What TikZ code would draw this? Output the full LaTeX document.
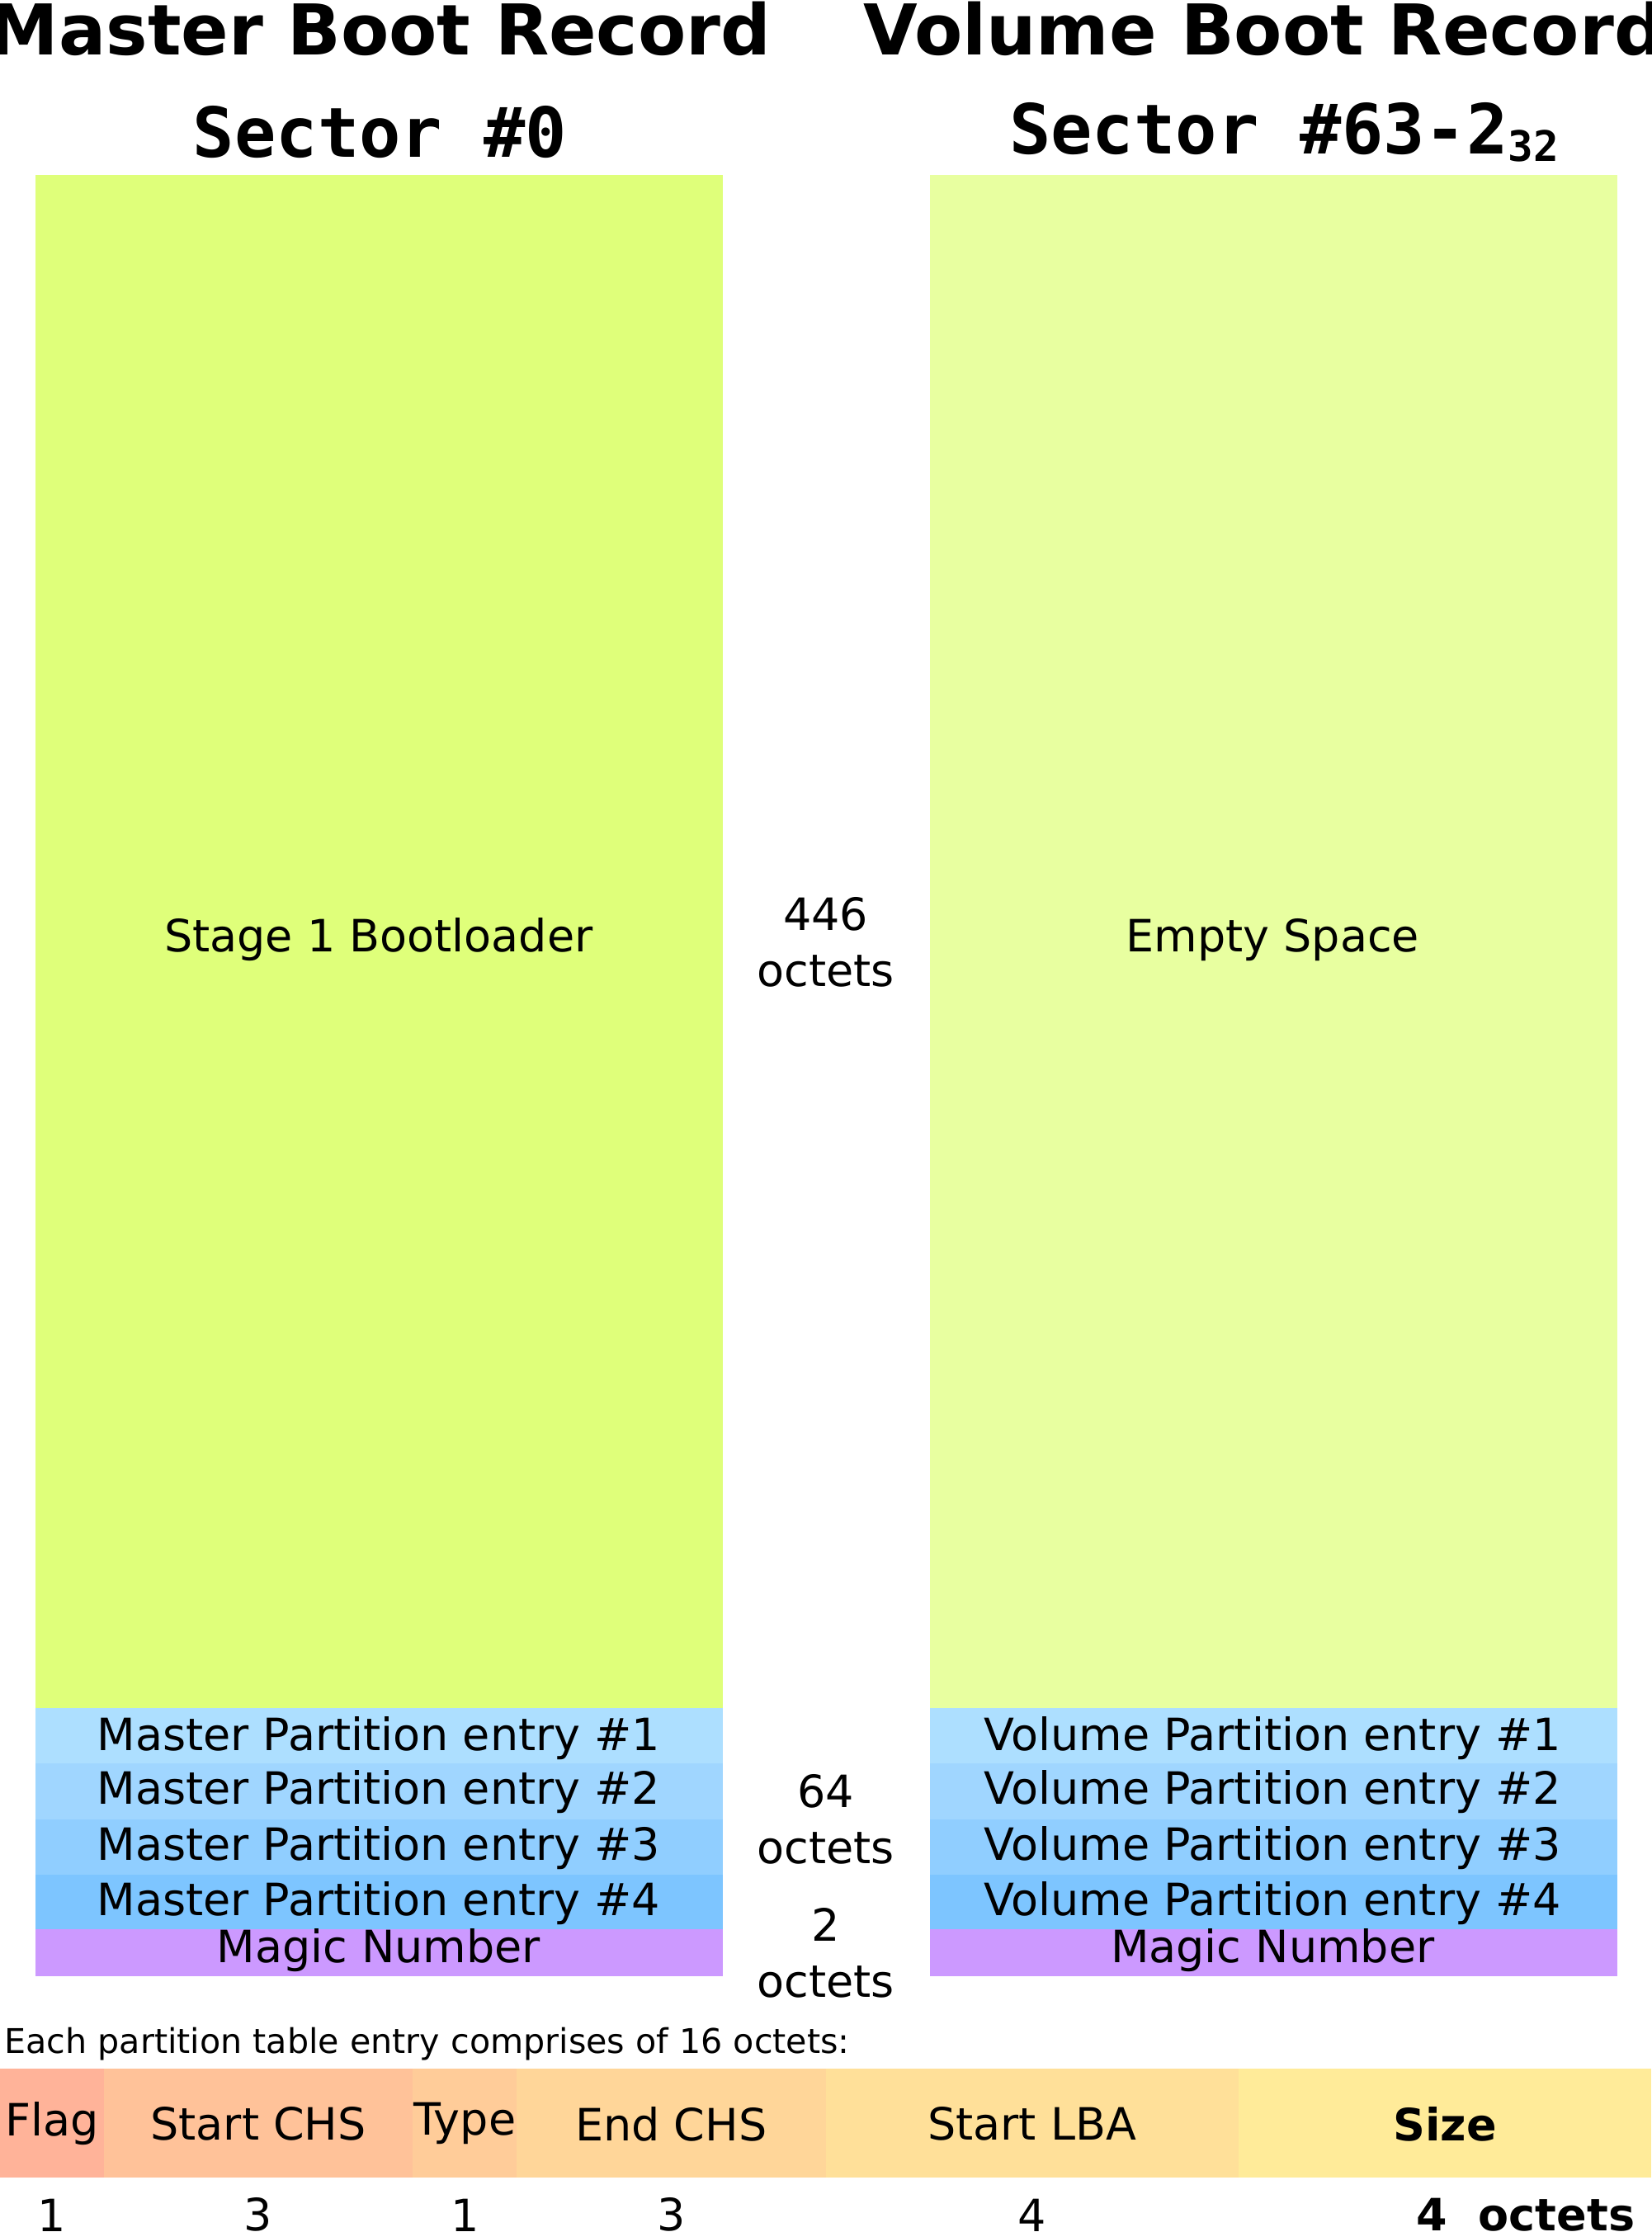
\documentclass[tikz,border=0pt]{standalone}
\usepackage{fontspec}
\setmainfont{DejaVu Sans}
\newfontfamily\monobold{DejaVu Sans Mono}
\usetikzlibrary{positioning}
\definecolor{bootgreen}{HTML}{DFFF7A}
\definecolor{emptygreen}{HTML}{E8FFA0}
\definecolor{entryA}{HTML}{ADDFFF}
\definecolor{entryB}{HTML}{A0D6FF}
\definecolor{entryC}{HTML}{90CEFF}
\definecolor{entryD}{HTML}{7DC5FF}
\definecolor{magic}{HTML}{CC99FF}
\definecolor{fFlag}{HTML}{FFB399}
\definecolor{fSchs}{HTML}{FFC299}
\definecolor{fType}{HTML}{FFCC99}
\definecolor{fEchs}{HTML}{FFD699}
\definecolor{fSlba}{HTML}{FFE099}
\definecolor{fSize}{HTML}{FFEB99}
\tikzset{
  body/.style={font=\fontsize{44.5}{50}\selectfont, inner sep=0pt},
  title/.style={font=\fontsize{70}{76}\selectfont\bfseries, inner sep=0pt},
  sector/.style={font=\fontsize{69}{74}\selectfont\monobold\bfseries, inner sep=0pt},
  note/.style={font=\fontsize{34}{38}\selectfont, inner sep=0pt, anchor=west},
  mid/.style={body, align=center, font=\fontsize{44.5}{56}\selectfont}
}
\begin{document}
\begin{tikzpicture}[x=0.05cm,y=-0.05cm]
\useasboundingbox (0,0) rectangle (1160,1568);
% sector blocks
\fill[bootgreen] (25,123) rectangle (508,1200);
\fill[emptygreen] (653,123) rectangle (1136,1200);
\foreach \x/\n in {25/Master,653/Volume}{
  \fill[entryA] (\x,1200) rectangle ++(483,39);
  \fill[entryB] (\x,1239) rectangle ++(483,39);
  \fill[entryC] (\x,1278) rectangle ++(483,39);
  \fill[entryD] (\x,1317) rectangle ++(483,38);
  \fill[magic] (\x,1355) rectangle ++(483,33);
  \node[body] at (\x+241,1221) {\n{} Partition entry \#1};
  \node[body] at (\x+241,1259) {\n{} Partition entry \#2};
  \node[body] at (\x+241,1298) {\n{} Partition entry \#3};
  \node[body] at (\x+241,1337) {\n{} Partition entry \#4};
  \node[body] at (\x+241,1370) {Magic Number};
}
\node[body] (boot) at (266,660) {Stage 1 Bootloader};
\node[body] (empty) at (894,660) {Empty Space};
% titles
\node[title] (mbr) at (267,20) {Master Boot Record};
\node[title] (vbr) at (888,20) {Volume Boot Record};
\node[sector] (s0) at (267,93) {Sector \#0};
\node[sector] (s63) at (902,93) {Sector \#63-2\raisebox{-0.1em}{\fontsize{42}{42}\selectfont 32}};
% sizes
\node[mid] (o446) at (580,662) {446\\octets};
\node[mid] (o64) at (580,1278) {64\\octets};
\node[mid] (o2) at (580,1372) {2\\octets};
% partition entry layout
\node[note] (each) at (3,1436) {Each partition table entry comprises of 16 octets:};
\foreach \a/\b/\c/\t/\n in {0/73/fFlag/Flag/1,73/290/fSchs/Start CHS/3,290/363/fType/Type/1,363/580/fEchs/End CHS/3,580/870/fSlba/Start LBA/4}{
  \fill[\c] (\a,1453) rectangle (\b,1530);
  \node[body] at ({(\a+\b)/2},1492) {\t};
  \node[body] at ({(\a+\b)/2},1556) {\n};
}
\fill[fSize] (870,1453) rectangle (1160,1530);
\node[body, font=\fontsize{44.5}{50}\selectfont\bfseries] (size) at (1015,1492) {Size};
\node[body, font=\fontsize{44.5}{50}\selectfont\bfseries, anchor=west] (szn) at (995,1556) {4\ \ octets};
\end{tikzpicture}
\end{document}
